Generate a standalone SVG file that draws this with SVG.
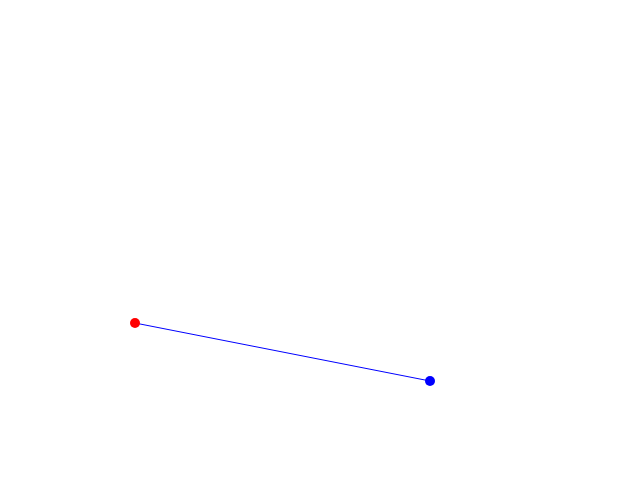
<svg xmlns="http://www.w3.org/2000/svg" width="640" height="480" viewBox="0 0 640 480">
<style>
.edge{stroke:#0000ff;stroke-width:1;fill:none}
</style>
<rect width="640" height="480" fill="#ffffff"/>
<g id="connectors">
<line class="edge" x1="135" y1="323" x2="430" y2="381"/>
</g>
<g id="node-a"><circle cx="135" cy="323" r="5" fill="#ff0000"/></g>
<g id="node-b"><circle cx="430" cy="381" r="5" fill="#0000ff"/></g>
</svg>
